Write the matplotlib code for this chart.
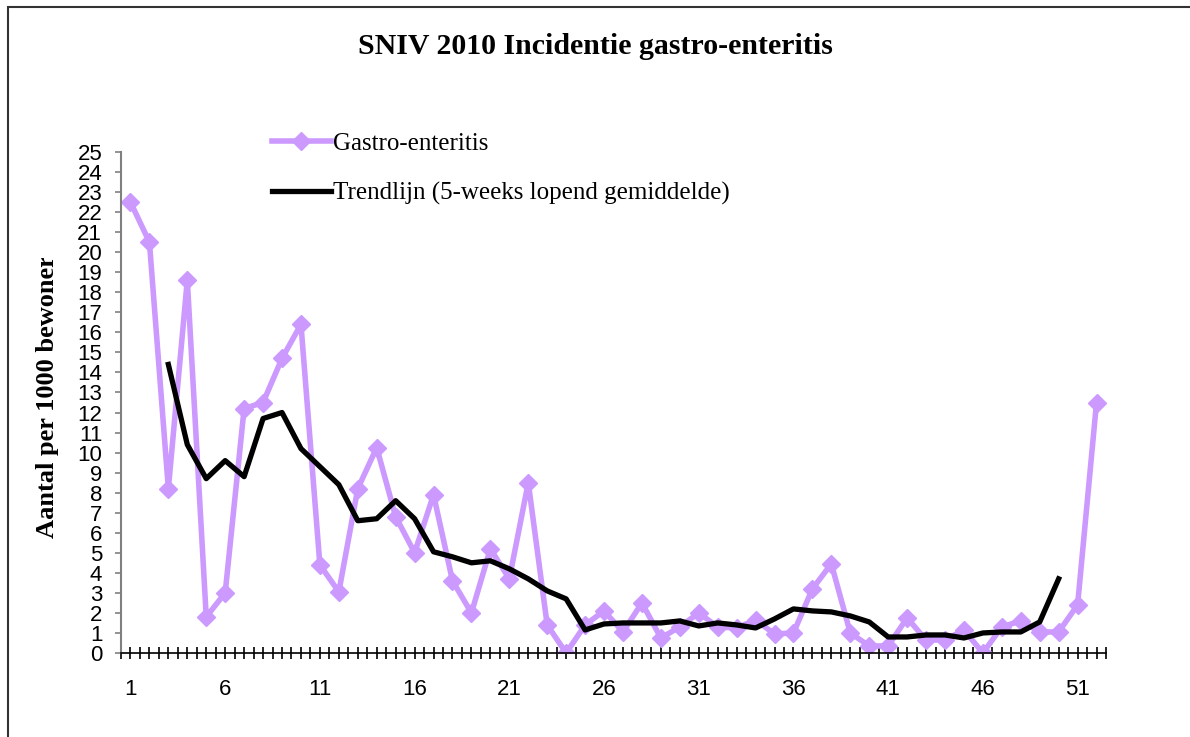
import numpy as np
import matplotlib
matplotlib.use("Agg")
from matplotlib import pyplot as plt
from matplotlib.patches import Rectangle
from matplotlib.transforms import Bbox, TransformedBbox

# Weekly incidence per 1000 residents
weeks = list(range(1, 53))
gastro = [22.5, 20.5, 8.2, 18.6, 1.8, 3.0, 12.2, 12.5, 14.7, 16.4,
          4.4, 3.05, 8.2, 10.25, 6.8, 5.0, 7.9, 3.6, 2.0, 5.2,
          3.7, 8.5, 1.4, 0.0, 1.4, 2.1, 1.05, 2.5, 0.75, 1.3,
          2.0, 1.3, 1.25, 1.65, 0.95, 1.0, 3.2, 4.45, 1.0, 0.35,
          0.35, 1.75, 0.65, 0.65, 1.15, 0.0, 1.3, 1.6, 1.05, 1.05,
          2.4, 12.5]

# Trend line (5-week running mean) exists for weeks 3..50
trend_weeks = list(range(3, 51))
trend = [14.4, 10.4, 8.7, 9.6, 8.8, 11.7, 12.0, 10.2, 9.3, 8.4,
         6.6, 6.7, 7.6, 6.7, 5.05, 4.8, 4.5, 4.6, 4.2, 3.7,
         3.1, 2.7, 1.15, 1.45, 1.5, 1.5, 1.5, 1.6, 1.35, 1.5,
         1.4, 1.25, 1.7, 2.2, 2.1, 2.05, 1.85, 1.55, 0.8, 0.8,
         0.9, 0.9, 0.75, 1.0, 1.05, 1.05, 1.55, 3.7]

x_labels = [1, 6, 11, 16, 21, 26, 31, 36, 41, 46, 51]
y_ticks = list(range(0, 26))

W, H = 1190, 737
fig = plt.figure(figsize=(W / 100, H / 100), dpi=100)
ax = fig.add_axes([121 / W, 1 - 653 / H, (1106 - 121) / W, (653 - 152) / H])

purple = "#CC99FF"
ax.plot(weeks, gastro, color=purple, lw=4.0, marker="D", ms=9.5,
        label="Gastro-enteritis", zorder=2)
ax.plot(trend_weeks, trend, color="black", lw=3.8,
        label="Trendlijn (5-weeks lopend gemiddelde)", zorder=3)

ax.set_xlim(0.5, 52.5)
ax.set_ylim(0, 25)

# x ticks every half week, labels every 5 weeks
xt = np.arange(0.5, 52.6, 0.5)
ax.set_xticks(xt)
ax.set_xticklabels([str(int(v)) if v in x_labels else "" for v in xt])
ax.set_yticks(y_ticks)

ax.tick_params(axis="x", direction="inout", length=8, width=1.2,
               color="black", pad=15, labelsize=16)
ax.tick_params(axis="y", direction="out", length=4.5, width=1.2,
               color="#808080", pad=9, labelsize=16)
for lab in ax.get_xticklabels() + ax.get_yticklabels():
    lab.set_fontfamily("Liberation Sans")

for s in ["top", "right"]:
    ax.spines[s].set_visible(False)
ax.spines["left"].set_color("#808080")
ax.spines["left"].set_linewidth(1.5)
ax.spines["bottom"].set_color("black")
ax.spines["bottom"].set_linewidth(1.2)

leg = ax.legend(loc="upper left", bbox_to_anchor=(272 / W, 1 - 132 / H),
                bbox_transform=fig.transFigure, frameon=False,
                prop={"family": "Liberation Serif", "size": 18},
                handlelength=2.35, handletextpad=0.1, labelspacing=1.1,
                borderpad=0, borderaxespad=0)

title = fig.text(0.5, 1 - 47 / H, "SNIV 2010 Incidentie gastro-enteritis",
                 ha="center", va="center", fontsize=21.5, fontweight="bold",
                 family="Liberation Serif")

ylab = fig.text(48 / W, 1 - 538 / H, "Aantal per 1000 bewoners",
                rotation=90, ha="center", va="bottom", fontsize=19,
                fontweight="bold", family="Liberation Serif")
ylab.set_clip_box(TransformedBbox(Bbox([[0, 0], [1, 1 - 258 / H]]), fig.transFigure))
ylab.set_clip_on(True)

# outer chart frame (only left and top edges fall inside the picture)
fig.add_artist(Rectangle((8 / W, -0.1), 1.2, 1.1 - 7 / H,
                         transform=fig.transFigure, fill=False,
                         edgecolor="#333333", lw=1.5))

fig.savefig("out.png", dpi=100)
